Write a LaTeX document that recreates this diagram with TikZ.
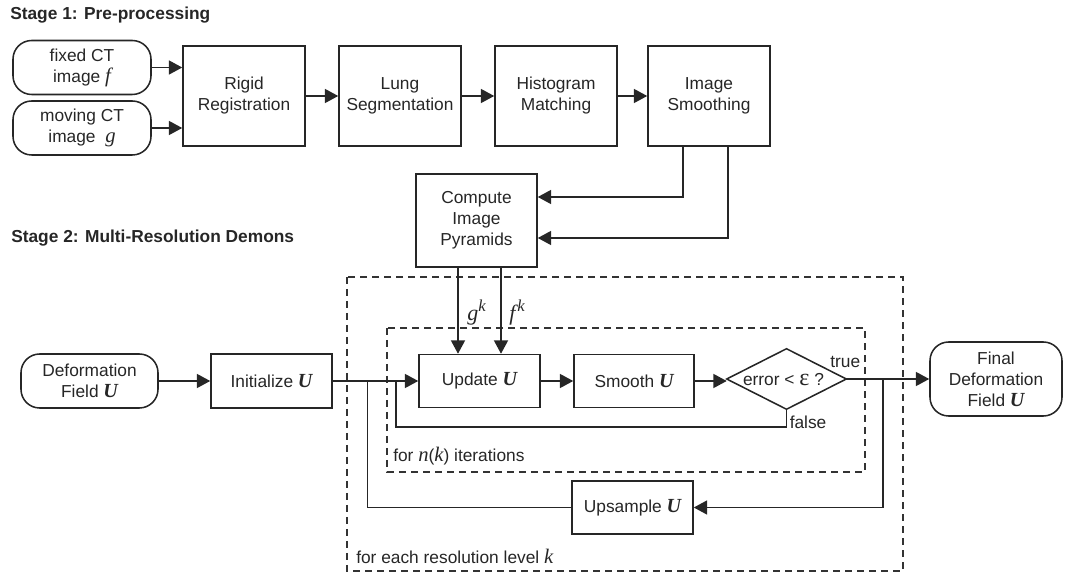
\documentclass[tikz,border=0pt]{standalone}
\usepackage{fontspec}
\setmainfont{Liberation Sans}
\newfontfamily\tms{Liberation Serif}
\usetikzlibrary{arrows.meta,calc}
\newdimen\pxu \pxu=0.75pt
\newcommand{\mU}{{\fontsize{15}{15}\selectfont\tms\bfseries\itshape U}}
\newcommand{\mvar}[1]{{\fontsize{15.5}{15}\selectfont\tms\itshape #1}}
\tikzset{
  base/.style={font=\fontsize{13}{15.75}\selectfont, text=black!85, inner sep=0pt},
  boxn/.style={base, draw=black!85, line width=1.15pt, align=center},
  rbox/.style={boxn, rounded corners=14pt},
  ln/.style={draw=black!85, line width=1.15pt},
  arr/.style={ln, -{Triangle[length=10pt,width=10.5pt]}},
  dashbox/.style={draw=black!80, line width=1.1pt, dash pattern=on 5.5pt off 3.5pt},
  stagelbl/.style={base, font=\fontsize{13}{15.75}\selectfont\bfseries, anchor=west},
}
\begin{document}
\begin{tikzpicture}[x=0.75pt,y=-0.75pt]
\useasboundingbox (0,0) rectangle (1065,573);

% Stage labels
\node[stagelbl] (st1) at (10,15) {Stage 1: Pre-processing};
\node[stagelbl] (st2) at (11,238) {Stage 2: Multi-Resolution Demons};

% Stage 1
\node[rbox, minimum width=138\pxu, minimum height=54\pxu] (fixed) at (82,67.5) {fixed CT\\image \mvar{f}};
\node[rbox, minimum width=138\pxu, minimum height=54\pxu] (moving) at (82,128) {moving CT\\image \ \mvar{g}};
\node[boxn, minimum width=122\pxu, minimum height=100\pxu] (rigid) at (244,96) {Rigid\\Registration};
\node[boxn, minimum width=122\pxu, minimum height=100\pxu] (lung) at (400,96) {Lung\\Segmentation};
\node[boxn, minimum width=122\pxu, minimum height=100\pxu] (hist) at (556,96) {Histogram\\Matching};
\node[boxn, minimum width=122\pxu, minimum height=100\pxu] (ismooth) at (709,96) {Image\\Smoothing};
\node[boxn, minimum width=121\pxu, minimum height=93\pxu] (compute) at (476.5,220.5) {Compute\\Image\\Pyramids};

\draw[arr] (fixed.east) -- (fixed.east -| rigid.west);
\draw[arr] (moving.east) -- (moving.east -| rigid.west);
\draw[arr] (rigid) -- (lung);
\draw[arr] (lung) -- (hist);
\draw[arr] (hist) -- (ismooth);
\draw[arr] ($(ismooth.south)+(-26,0)$) |- ($(compute.east)+(0,-23.5)$);
\draw[arr] ($(ismooth.south)+(19,0)$) |- ($(compute.east)+(0,17.5)$);

% Stage 2 dashed frames
\draw[dashbox] (347,277) rectangle (903,571);
\draw[dashbox] (387,328) rectangle (865,472);
\node[base, anchor=west] (iterlbl) at (393,456) {for {\tms\itshape\fontsize{15.5}{15}\selectfont n}({\tms\itshape\fontsize{15.5}{15}\selectfont k}) iterations};
\node[base, anchor=west] (levlbl) at (356,556) {for each resolution level {\tms\itshape\fontsize{15.5}{15}\selectfont k}};

% Stage 2 nodes
\node[rbox, minimum width=137\pxu, minimum height=54\pxu] (deform) at (89.5,381) {Deformation\\Field \mU};
\node[boxn, minimum width=121\pxu, minimum height=54\pxu] (init) at (271.5,381) {Initialize \mU};
\node[boxn, minimum width=121\pxu, minimum height=53\pxu] (update) at (479.5,381) {Update \mU};
\node[boxn, minimum width=120\pxu, minimum height=53\pxu] (smoothU) at (634,381) {Smooth \mU};
\node[inner sep=0pt, minimum width=119\pxu, minimum height=60\pxu] (dec) at (786.5,379) {};
\draw[ln] (dec.west) -- (dec.north) -- (dec.east) -- (dec.south) -- cycle;
\node[base] (dectext) at ($(dec.center)+(-3,1)$) {error < {\tms\fontsize{18}{18}\selectfont ε} ?};
\node[rbox, minimum width=132\pxu, minimum height=74\pxu] (final) at (996,379) {Final\\Deformation\\Field \mU};
\node[boxn, minimum width=121\pxu, minimum height=53\pxu] (upsample) at (632.5,507.5) {Upsample \mU};

% labels on decision
\node[base, anchor=south] (truelbl) at ($(dec.east)+(-1,-11)$) {true};
\node[base, anchor=west] (falselbl) at ($(dec.south)+(3,13)$) {false};

% connectors stage 2
\coordinate (ga) at ($(update.north)+(-21.5,0)$);
\coordinate (fa) at ($(update.north)+(21.5,0)$);
\draw[arr] (ga |- compute.south) -- (ga);
\draw[arr] (fa |- compute.south) -- (fa);
\node[base, anchor=west] (gk) at ($(ga)+(9,-41)$) {{\fontsize{16.5}{16}\selectfont\tms\itshape g}\raisebox{0.5em}{\fontsize{12.5}{12}\selectfont\tms\itshape k}};
\node[base, anchor=west] (fk) at ($(fa)+(8,-41)$) {{\fontsize{16.5}{16}\selectfont\tms\itshape f}\kern1.5pt\raisebox{0.5em}{\fontsize{12.5}{12}\selectfont\tms\itshape k}};

\draw[arr] (deform.east) -- (deform.east -| init.west);
\draw[arr] (init.east) -- (init.east -| update.west);
\draw[arr] (update) -- (smoothU);
\draw[arr] (smoothU.east) -- (smoothU.east -| dec.west);
\draw[arr] (dec.east) -- (dec.east -| final.west);

\coordinate (fl) at ($(update.west)+(-22,46)$);
\draw[ln] (dec.south) |- (fl) -- (fl |- update.west);

\coordinate (ux) at ($(dec.east)+(36.5,0)$);
\draw[arr] (ux) |- (upsample.east);
\coordinate (lx) at ($(init.east)+(34.5,0)$);
\draw[ln] (upsample.west) -| (lx);
\end{tikzpicture}
\end{document}
